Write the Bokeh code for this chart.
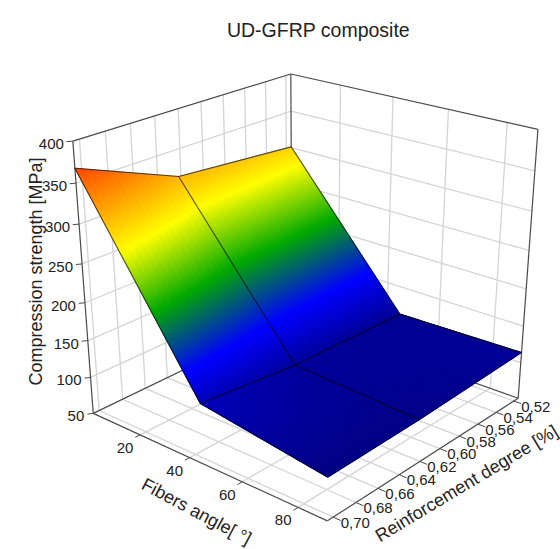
import numpy as np
from bokeh.plotting import figure
from bokeh.embed import file_html
from bokeh.resources import INLINE
from bokeh.core.properties import value
from bokeh.models import Range1d, ColumnDataSource

# ---- data ----
fibers = [0.0, 45.0, 90.0]
reinforcement = [0.515, 0.622, 0.705]
strength = [
    [301.0, 315.0, 368.0],
    [111.0, 116.0, 129.0],
    [114.0, 107.0, 105.0],
]
x_ticks = [20, 40, 60, 80]
y_ticks = [0.52, 0.54, 0.56, 0.58, 0.60, 0.62, 0.64, 0.66, 0.68, 0.70]
y_tick_labels = ["0,52", "0,54", "0,56", "0,58", "0,60", "0,62", "0,64", "0,66", "0,68", "0,70"]
z_ticks = [50, 100, 150, 200, 250, 300, 350, 400]
x_lim = (0.0, 90.0)
y_lim = (0.515, 0.705)
z_lim = (50.0, 400.0)

title = "UD-GFRP composite"
x_label = "Fibers angle[ °]"
y_label = "Reinforcement degree [%]"
z_label = "Compression strength [MPa]"

# colour map stops (value, rgb)
cmap_v = [100, 159, 220, 281, 400]
cmap_c = [(0, 0, 120), (0, 0, 255), (0, 170, 0), (255, 255, 0), (255, 0, 0)]

# ---- camera: calibrated from the box corners ----
camera_world = [
    (0, .705, 50), (0, .705, 400), (0, .515, 50), (0, .515, 400),
    (90, .515, 50), (90, .515, 400), (90, .705, 50),
]
camera_view = [
    (93, 412), (72, 141), (291, 318), (291, 73),
    (518, 397), (537, 129), (327, 521),
]


def norm(x, y, z):
    return ((np.asarray(x, float) - x_lim[0]) / (x_lim[1] - x_lim[0]),
            (np.asarray(y, float) - y_lim[0]) / (y_lim[1] - y_lim[0]),
            (np.asarray(z, float) - z_lim[0]) / (z_lim[1] - z_lim[0]))


A = []
for (wx, wy, wz), (sx, sy) in zip(camera_world, camera_view):
    X = [*map(float, norm(wx, wy, wz)), 1.0]
    A.append(X + [0, 0, 0, 0] + [-sx * c for c in X])
    A.append([0, 0, 0, 0] + X + [-sy * c for c in X])
P = np.linalg.svd(np.array(A))[2][-1].reshape(3, 4)


def proj(x, y, z):
    u, v, w = norm(x, y, z)
    d = P[2, 0] * u + P[2, 1] * v + P[2, 2] * w + P[2, 3]
    return ((P[0, 0] * u + P[0, 1] * v + P[0, 2] * w + P[0, 3]) / d,
            (P[1, 0] * u + P[1, 1] * v + P[1, 2] * w + P[1, 3]) / d)


def seg(a, b):
    s = proj(*a)
    e = proj(*b)
    return [float(s[0]), float(e[0])], [float(s[1]), float(e[1])]


def lines(p, segs, color, width):
    xs = [seg(a, b)[0] for a, b in segs]
    ys = [seg(a, b)[1] for a, b in segs]
    p.multi_line(xs, ys, line_color=color, line_width=width)


def colour(z):
    r = np.interp(z, cmap_v, [c[0] for c in cmap_c])
    g = np.interp(z, cmap_v, [c[1] for c in cmap_c])
    b = np.interp(z, cmap_v, [c[2] for c in cmap_c])
    return "#%02x%02x%02x" % (int(r), int(g), int(b))


p = figure(width=560, height=549, output_backend="svg", toolbar_location=None,
           x_range=Range1d(0, 560), y_range=Range1d(549, 0), min_border=0)
p.axis.visible = False
p.grid.visible = False
p.outline_line_color = None

x0, x1 = x_lim
y0, y1 = y_lim
z0, z1 = z_lim

# grid
grid = []
for t in x_ticks:
    grid += [((t, y0, z0), (t, y1, z0)), ((t, y0, z0), (t, y0, z1))]
for t in y_ticks:
    grid += [((x0, t, z0), (x1, t, z0)), ((x0, t, z0), (x0, t, z1))]
for t in z_ticks[1:-1]:
    grid += [((x0, y0, t), (x1, y0, t)), ((x0, y0, t), (x0, y1, t))]
lines(p, grid, "#d4d4d4", 1.3)

# box lines behind the surface
box = [((x0, y1, z1), (x0, y0, z1)), ((x0, y0, z1), (x1, y0, z1)),
       ((x0, y0, z0), (x0, y0, z1)), ((x1, y0, z0), (x1, y0, z1)),
       ((x0, y1, z0), (x0, y1, z1)), ((x0, y1, z0), (x0, y0, z0)),
       ((x0, y0, z0), (x1, y0, z0)), ((x0, y1, z0), (x1, y1, z0)),
       ((x1, y1, z0), (x1, y0, z0))]
lines(p, box, "#4a4a4a", 1.2)

# tick marks
marks = [((t, y1, z0), (t, y1 + 0.004, z0)) for t in x_ticks]
marks += [((x1, t, z0), (x1 + 2.5, t, z0)) for t in y_ticks]
marks += [((x0, y1, t), (x0 - 1, y1 + 0.003, t)) for t in z_ticks]
lines(p, marks, "#4a4a4a", 1)

# surface: each mesh cell is split into thin patches coloured by height
Z = np.array(strength)
xs, ys, cs = [], [], []
nu, nv = 120, 14
for i in range(len(fibers) - 1):
    for j in range(len(reinforcement) - 1):
        for a in range(nu):
            for b in range(nv):
                ua = np.array([a, a + 1, a + 1, a]) / nu
                va = np.array([b, b, b + 1, b + 1]) / nv
                xv = fibers[i] + ua * (fibers[i + 1] - fibers[i])
                yv = reinforcement[j] + va * (reinforcement[j + 1] - reinforcement[j])
                zv = ((1 - ua) * (1 - va) * Z[i, j] + ua * (1 - va) * Z[i + 1, j]
                      + (1 - ua) * va * Z[i, j + 1] + ua * va * Z[i + 1, j + 1])
                sx, sy = proj(xv, yv, zv)
                xs.append([float(q) for q in sx])
                ys.append([float(q) for q in sy])
                cs.append(colour(float(zv.mean())))
p.patches("xs", "ys", fill_color="c", line_color="c", line_width=1,
          source=ColumnDataSource(dict(xs=xs, ys=ys, c=cs)))

# mesh lines
mesh = []
for i, fx in enumerate(fibers):
    for j in range(2):
        mesh.append(((fx, reinforcement[j], Z[i, j]), (fx, reinforcement[j + 1], Z[i, j + 1])))
for j, fy in enumerate(reinforcement):
    for i in range(2):
        mesh.append(((fibers[i], fy, Z[i, j]), (fibers[i + 1], fy, Z[i + 1, j])))
xs_m = [seg(a, b)[0] for a, b in mesh]
ys_m = [seg(a, b)[1] for a, b in mesh]
p.multi_line(xs_m, ys_m, line_color="#000000", line_alpha=0.65, line_width=1.1)

# texts
font = value("Liberation Sans")
tc = "#222222"


def label(px, py, txts, size, align="center", angle=0.0):
    p.text(px, py, text=txts, text_font=font, text_font_size=value(size), text_color=tc,
           text_align=align, text_baseline="middle", angle=angle)


tx, ty = proj(np.array(x_ticks, float), y1, z0)
label([float(v) - 15 for v in tx], [float(v) + 13 for v in ty], [str(t) for t in x_ticks], "15px")
tx, ty = proj(x1, np.array(y_ticks), z0)
label([float(v) + 22 for v in tx], [float(v) + 5.5 for v in ty], y_tick_labels, "15px")
tx, ty = proj(x0, y1, np.array(z_ticks, float))
label([float(v) - 9 for v in tx], [float(v) + 3 for v in ty], [str(t) for t in z_ticks], "15px", "right")

label([318], [29], [title], "19.5px")
label([35], [271], [z_label], "18px", angle=np.pi / 2)
label([196], [511], [x_label], "18px", angle=-np.deg2rad(28))
label([466], [483], [y_label], "18px", angle=np.deg2rad(31))

open("out.html", "w").write(file_html(p, INLINE))
